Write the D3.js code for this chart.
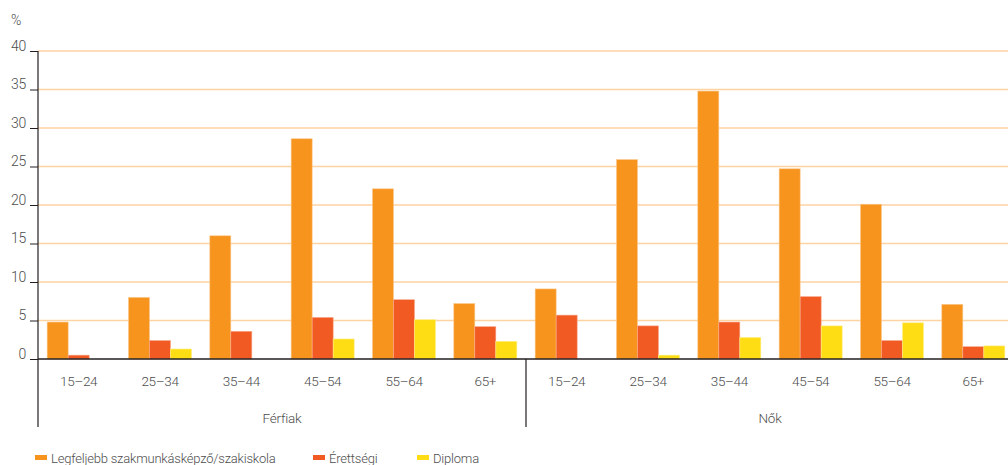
<!DOCTYPE html>
<html>
<head>
<meta charset="utf-8">
<script src="https://cdn.jsdelivr.net/npm/d3@7"></script>
<style>
  html, body { margin: 0; padding: 0; background: #fff; }
  svg { display: block; }
  text { font-family: Roboto, "Open Sans", sans-serif; font-weight: 300; fill: #4d4d4d; }
</style>
</head>
<body>
<svg id="chart" width="1008" height="465"></svg>
<script>
// Age bands and sexes
const ageGroups = ["15–24", "25–34", "35–44", "45–54", "55–64", "65+"];
const sexes = ["Férfiak", "Nők"];
const seriesNames = ["Legfeljebb szakmunkásképző/szakiskola", "Érettségi", "Diploma"];
const yTicks = [0, 5, 10, 15, 20, 25, 30, 35, 40];

// Shares (%) by education level, men then women
const vocational = [4.8, 8.0, 16.0, 28.6, 22.1, 7.2,   9.1, 25.9, 34.8, 24.7, 20.1, 7.1];
const secondary  = [0.5, 2.4, 3.6, 5.4, 7.7, 4.2,      5.7, 4.3, 4.8, 8.1, 2.4, 1.6];
const degree     = [0.0, 1.3, 0.0, 2.6, 5.1, 2.3,      0.0, 0.5, 2.8, 4.3, 4.7, 1.7];

const colors = ["#F7941D", "#F15A22", "#FFDD15"];
const strokes = ["#FBC98F", "#F8A98C", "#FFEE8A"];

const svg = d3.select("#chart");
const plotLeft = 38, plotRight = 1014, plotTop = 51, plotBase = 359;

const categories = [];
sexes.forEach(s => ageGroups.forEach(a => categories.push(s + "|" + a)));

const x = d3.scaleBand().domain(categories).range([plotLeft, plotRight]).paddingInner(0.225).paddingOuter(0.1125);
const xInner = d3.scaleBand().domain(seriesNames).range([0, x.bandwidth()]);
const y = d3.scaleLinear().domain([0, 40]).range([plotBase, plotTop]);

// Gridlines
svg.append("g").selectAll("line").data(yTicks.filter(d => d > 0)).join("line")
  .attr("x1", plotLeft).attr("x2", 1008)
  .attr("y1", d => y(d)).attr("y2", d => y(d))
  .attr("stroke", "#FDD3A2").attr("stroke-width", 1.5);

// Bars
const seriesData = [vocational, secondary, degree];
seriesData.forEach((vals, si) => {
  svg.append("g").selectAll("rect").data(vals.map((v, i) => ({ v, c: categories[i] })).filter(d => d.v > 0))
    .join("rect")
    .attr("x", d => x(d.c) + xInner(seriesNames[si]))
    .attr("width", xInner.bandwidth())
    .attr("y", d => y(d.v))
    .attr("height", d => plotBase - y(d.v))
    .attr("fill", colors[si])
    .attr("stroke", strokes[si]).attr("stroke-width", 0.6);
});

// Y axis
const yAxis = d3.axisLeft(y).tickValues(yTicks).tickSize(8).tickPadding(4);
const gy = svg.append("g").attr("transform", `translate(${plotLeft},0)`).call(yAxis);
gy.select(".domain").remove();
gy.selectAll(".tick line").attr("stroke", "#231F20");
gy.selectAll(".tick text").attr("font-size", 14).attr("dy", "-0.05em").attr("letter-spacing", -0.3)
  .style("font-family", "Roboto, sans-serif").style("font-weight", 300).attr("fill", "#4d4d4d");

svg.append("line").attr("x1", plotLeft).attr("x2", plotLeft).attr("y1", plotTop).attr("y2", 427)
  .attr("stroke", "#231F20").attr("stroke-width", 1.2);
svg.append("line").attr("x1", plotLeft).attr("x2", 1008).attr("y1", plotBase).attr("y2", plotBase)
  .attr("stroke", "#231F20").attr("stroke-width", 1.5);

const divX = x(categories[6]) - x.step() * x.paddingInner() / 2;
svg.append("line").attr("x1", divX).attr("x2", divX).attr("y1", plotBase).attr("y2", 427)
  .attr("stroke", "#231F20").attr("stroke-width", 1.2);

svg.append("text").attr("x", 11).attr("y", 25).attr("font-size", 14).text("%");

// Age labels
svg.append("g").selectAll("text").data(categories).join("text")
  .attr("x", d => x(d) + x.bandwidth() / 2).attr("y", 386)
  .attr("text-anchor", "middle").attr("font-size", 13.5).attr("letter-spacing", -0.3)
  .text(d => d.split("|")[1]);

// Sex labels
sexes.forEach((s, i) => {
  const first = x(categories[i * 6]), last = x(categories[i * 6 + 5]) + x.bandwidth();
  svg.append("text").attr("x", (first + last) / 2).attr("y", 423)
    .attr("text-anchor", "middle").attr("font-size", 13.5).attr("letter-spacing", -0.2).text(s);
});

// Legend
const legendX = [35, 313, 417];
seriesNames.forEach((n, i) => {
  const g = svg.append("g").attr("transform", `translate(${legendX[i]},0)`);
  g.append("rect").attr("x", 0).attr("y", 455).attr("width", 12).attr("height", 5).attr("fill", colors[i]);
  g.append("text").attr("x", 16).attr("y", 463).attr("font-size", 13).attr("letter-spacing", -0.2).text(n);
});
</script>
</body>
</html>
